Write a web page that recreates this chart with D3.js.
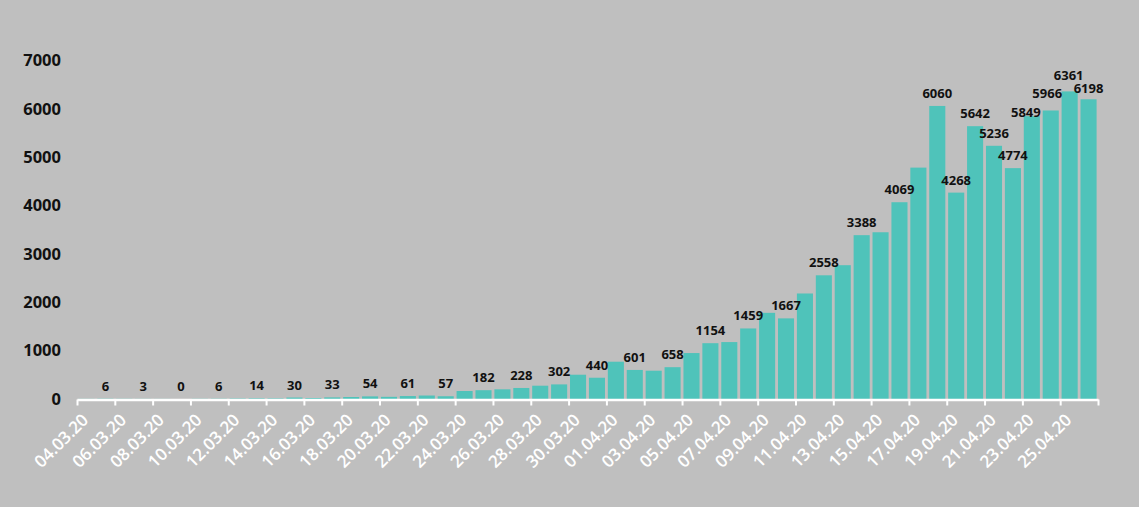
<!DOCTYPE html>
<html>
<head>
<meta charset="utf-8">
<script src="https://cdn.jsdelivr.net/npm/d3@7"></script>
<style>
  html, body { margin: 0; padding: 0; background: #BFBFBF; }
  svg { display: block; }
  text { font-family: "Open Sans", "Noto Sans", sans-serif; }
</style>
</head>
<body>
<svg id="chart" width="1139" height="507"></svg>
<script>
// ---- Data ----
const dates = [
  "04.03.20","05.03.20","06.03.20","07.03.20","08.03.20","09.03.20","10.03.20","11.03.20",
  "12.03.20","13.03.20","14.03.20","15.03.20","16.03.20","17.03.20","18.03.20","19.03.20",
  "20.03.20","21.03.20","22.03.20","23.03.20","24.03.20","25.03.20","26.03.20","27.03.20",
  "28.03.20","29.03.20","30.03.20","31.03.20","01.04.20","02.04.20","03.04.20","04.04.20",
  "05.04.20","06.04.20","07.04.20","08.04.20","09.04.20","10.04.20","11.04.20","12.04.20",
  "13.04.20","14.04.20","15.04.20","16.04.20","17.04.20","18.04.20","19.04.20","20.04.20",
  "21.04.20","22.04.20","23.04.20","24.04.20","25.04.20","26.04.20"
];
const values = [
  3, 6, 4, 3, 2, 0, 4, 6,
  10, 14, 12, 30, 20, 33, 41, 54,
  45, 61, 72, 57, 165, 182, 200, 228,
  275, 302, 502, 440, 771, 601, 585, 658,
  950, 1154, 1177, 1459, 1782, 1667, 2182, 2558,
  2767, 3388, 3448, 4069, 4785, 6060, 4268, 5642,
  5236, 4774, 5849, 5966, 6361, 6198
];
// Data labels shown in the chart (null = not shown)
const dataLabels = values.map((v, i) => (i % 2 === 1 || i >= 45) ? v : null);
const yTicks = [0, 1000, 2000, 3000, 4000, 5000, 6000, 7000];
const xTickLabelIdx = d3.range(0, dates.length, 2);

// ---- Layout ----
const svg = d3.select("#chart");
const left = 77, right = 1098, yBase = 399, yTop = 60.5;
// manual label nudges (as in the original, where crowded labels were moved)
const labelNudge = { 50: [-6, 9], 51: [-3.5, -5], 52: [-1, -3], 53: [0, 2] };

const x = d3.scaleBand()
  .domain(d3.range(dates.length))
  .range([left, right])
  .paddingInner(0.15)
  .paddingOuter(0.075);

const xLin = d3.scaleLinear().domain([0, dates.length]).range([left, right]);

const y = d3.scaleLinear().domain([0, 7000]).range([yBase, yTop]);

// Bars
svg.append("g")
  .selectAll("rect")
  .data(values)
  .join("rect")
  .attr("x", (d, i) => x(i))
  .attr("y", d => y(d))
  .attr("width", x.bandwidth())
  .attr("height", d => yBase - y(d))
  .attr("fill", "#4FC3BA");

// Data labels
svg.append("g")
  .selectAll("text")
  .data(dataLabels.map((v, i) => ({ v, i })).filter(d => d.v !== null))
  .join("text")
  .attr("x", d => x(d.i) + x.bandwidth() / 2 + (labelNudge[d.i] ? labelNudge[d.i][0] : 0))
  .attr("y", d => y(values[d.i]) - 8 + (labelNudge[d.i] ? labelNudge[d.i][1] : 0))
  .attr("text-anchor", "middle")
  .attr("font-size", 13)
  .attr("font-weight", 700)
  .attr("fill", "#111")
  .text(d => d.v);

// X axis (line + ticks)
const xAxis = svg.append("g")
  .attr("transform", `translate(0,${yBase + 0.5})`)
  .call(d3.axisBottom(xLin)
    .tickValues(d3.range(0, dates.length + 1, 2))
    .tickSize(6)
    .tickSizeOuter(0)
    .tickFormat(""));
xAxis.select(".domain").attr("stroke", "#FFFFFF").attr("stroke-width", 2.5);
xAxis.selectAll(".tick line").attr("stroke", "#FFFFFF").attr("stroke-width", 2);

// X tick labels (rotated)
svg.append("g")
  .selectAll("text")
  .data(xTickLabelIdx)
  .join("text")
  .attr("transform", i => `translate(${x(i) + x.bandwidth() / 2 + 3},${yBase + 22}) rotate(-45)`)
  .attr("text-anchor", "end")
  .attr("font-size", 17)
  .attr("font-weight", 600)
  .attr("fill", "#FFFFFF")
  .text(i => dates[i]);

// Y axis labels
const yAxis = svg.append("g")
  .attr("transform", `translate(${left - 10},0)`)
  .call(d3.axisLeft(y).tickValues(yTicks).tickFormat(d3.format("d")).tickSize(0).tickPadding(6));
yAxis.select(".domain").remove();
yAxis.selectAll(".tick text")
  .attr("font-family", "'Open Sans', 'Noto Sans', sans-serif")
  .attr("font-size", 16.5)
  .attr("font-weight", 700)
  .attr("fill", "#111");
</script>
</body>
</html>
